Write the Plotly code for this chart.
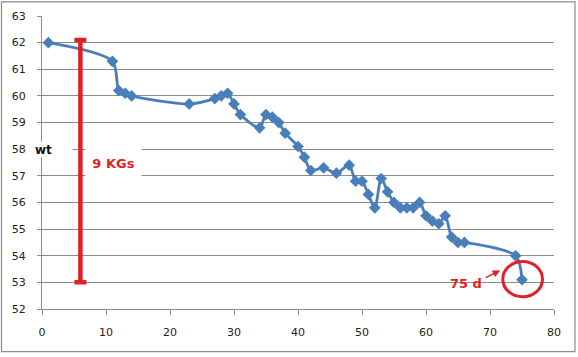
import plotly.graph_objects as go

days = [1, 11, 12, 13, 14, 23, 27, 28, 29, 30, 31, 34, 35, 36, 37, 38, 40, 41, 42,
        44, 46, 48, 49, 50, 51, 52, 53, 54, 55, 56, 57, 58, 59, 60, 61, 62, 63, 64,
        65, 66, 74, 75]
weight = [62.0, 61.3, 60.2, 60.1, 60.0, 59.7, 59.9, 60.0, 60.1, 59.7, 59.3, 58.8,
          59.3, 59.2, 59.0, 58.6, 58.1, 57.7, 57.2, 57.3, 57.1, 57.4, 56.8, 56.8,
          56.3, 55.8, 56.9, 56.4, 56.0, 55.8, 55.8, 55.8, 56.0, 55.5, 55.3, 55.2,
          55.5, 54.7, 54.5, 54.5, 54.0, 53.1]

# loss bar annotation
bar_day = 6
bar_top = 62.1
bar_bottom = 53.0
bar_label = "9 KGs"

final_label = "75 d"
x_ticks = [0, 10, 20, 30, 40, 50, 60, 70, 80]
y_ticks = list(range(52, 64))

BLUE = "#4A7EBB"
RED = "#E11F26"
GRID = "#8C8C8C"

fig = go.Figure()

fig.add_trace(go.Scatter(
    x=days, y=weight, mode="lines+markers",
    line=dict(color=BLUE, width=2.8, shape="spline", smoothing=0.8),
    marker=dict(symbol="diamond", size=9, color=BLUE),
    showlegend=False, cliponaxis=False,
))

mid = (bar_top + bar_bottom) / 2
half = (bar_top - bar_bottom) / 2
fig.add_trace(go.Scatter(
    x=[bar_day], y=[mid], mode="markers",
    marker=dict(size=1, color="rgba(0,0,0,0)"),
    error_y=dict(type="data", array=[half], symmetric=True, color=RED,
                 thickness=4.5, width=6),
    showlegend=False, hoverinfo="skip",
))

fig.update_layout(
    width=578, height=357,
    margin=dict(l=42, r=24, t=16, b=48),
    paper_bgcolor="white", plot_bgcolor="white",
    font=dict(family="DejaVu Sans", size=11, color="#222222"),
    xaxis=dict(range=[0, 80], tickvals=x_ticks, showgrid=False, zeroline=False,
               showline=True, linecolor=GRID, linewidth=1, automargin=False,
               ticks="outside", ticklen=5, tickcolor=GRID,
               ticklabelstandoff=8, tickfont=dict(size=11, color="#222")),
    yaxis=dict(range=[52, 63], tickvals=y_ticks, showgrid=True, gridcolor=GRID,
               gridwidth=1, zeroline=False, showline=True, linecolor=GRID,
               linewidth=1, ticks="outside", ticklen=4, tickcolor=GRID,
               automargin=False,
               ticklabelstandoff=9, tickfont=dict(size=11, color="#222")),
)

# chart frame
fig.add_shape(type="rect", xref="paper", yref="paper",
              x0=(1.5 - 42) / 512, x1=(575 - 42) / 512,
              y0=(309.3 - 352) / 293.6, y1=(309.3 - 1.5) / 293.6,
              line=dict(color="#8C8C8C", width=1.2), layer="below")

# circle around final point
fig.add_shape(type="circle", xref="x", yref="y",
              x0=days[-1] - 3.0, x1=days[-1] + 3.2,
              y0=weight[-1] - 0.64, y1=weight[-1] + 0.68,
              line=dict(color=RED, width=3))

fig.add_annotation(x=11.2, y=57.5, text="<b>" + bar_label + "</b>", showarrow=False,
                   font=dict(family="DejaVu Sans", size=13, color=RED),
                   bgcolor="white", width=53, height=34)
fig.add_annotation(xref="paper", x=(33 - 42.3) / 512, y=58.0, text="<b>wt</b>",
                   showarrow=False,
                   font=dict(family="DejaVu Sans", size=12, color="#111"),
                   bgcolor="white", width=36, height=13, xanchor="left", align="left")
fig.add_annotation(x=34.7, y=51.0, text="<b>days</b>", showarrow=False,
                   font=dict(family="DejaVu Sans", size=12, color="#111"),
                   bgcolor="white", yanchor="middle")
fig.add_annotation(x=66.2, y=52.95, text="<b>" + final_label + "</b>", showarrow=False,
                   font=dict(family="DejaVu Sans", size=13, color=RED))
fig.add_annotation(x=71.6, y=53.45, ax=69.1, ay=53.15, axref="x", ayref="y",
                   text="", showarrow=True, arrowhead=2, arrowsize=1,
                   arrowwidth=1.5, arrowcolor=RED)

fig.write_html("out.html", config={"displayModeBar": False},
               post_script="document.body.style.margin='0';document.body.style.overflow='hidden';")
